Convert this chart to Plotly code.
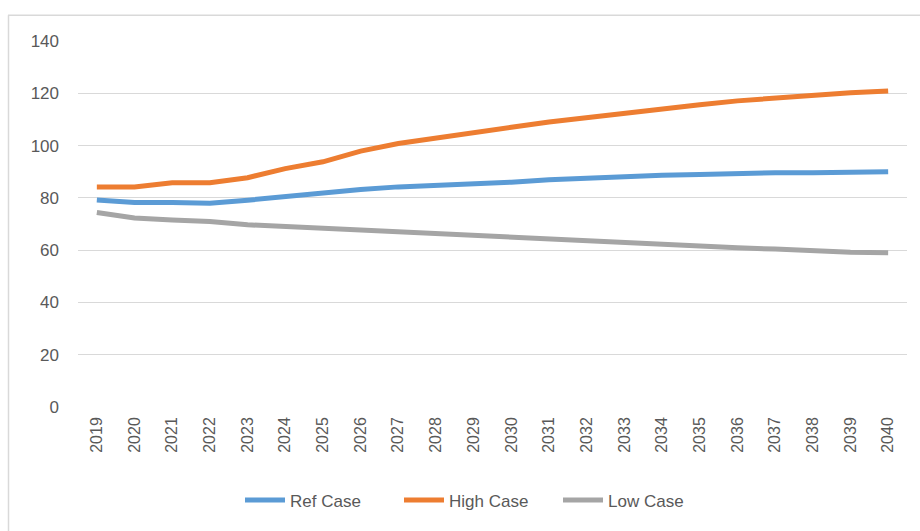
import plotly.graph_objects as go

years = [str(y) for y in range(2019, 2041)]
ref_case = [79.2, 78.2, 78.2, 77.9, 79.1, 80.5, 81.8, 83.2, 84.2, 84.7, 85.6, 86.0,
            86.9, 87.6, 88.2, 88.6, 88.9, 89.3, 89.6, 89.6, 90.0, 90.0]
high_case = [84.2, 84.2, 85.8, 85.8, 87.7, 91.2, 93.8, 97.9, 100.8, 103.0, 105.0, 107.0,
             109.0, 110.7, 112.5, 114.0, 115.6, 117.1, 118.2, 119.4, 120.2, 120.9]
low_case = [74.4, 72.3, 71.5, 71.0, 69.7, 69.0, 68.6, 67.7, 67.2, 66.3, 65.9, 65.2,
            64.4, 63.6, 63.0, 62.2, 61.7, 60.9, 60.4, 59.7, 59.2, 59.0]
y_ticks = [0, 20, 40, 60, 80, 100, 120, 140]

names = ["Ref Case", "High Case", "Low Case"]
colors = ["#5B9BD5", "#ED7D31", "#A5A5A5"]
series = [ref_case, high_case, low_case]

fig = go.Figure()
for name, vals, col in zip(names, series, colors):
    fig.add_trace(go.Scatter(x=years, y=vals, mode="lines", name=name,
                             line=dict(color=col, width=5)))

W, H = 920, 531
L, R, T, B = 78, 13, 41, 122
pw, ph = W - L - R, H - T - B

fig.update_layout(
    width=W, height=H,
    margin=dict(l=L, r=R, t=T, b=B),
    paper_bgcolor="white", plot_bgcolor="white",
    font=dict(family="Liberation Sans, Arial, sans-serif", size=14, color="#595959"),
    showlegend=True,
    legend=dict(orientation="h", x=(245 - L - 5) / pw, xanchor="left",
                y=-(503 - (T + ph)) / ph, yanchor="middle",
                font=dict(size=17, color="#595959"), itemwidth=40,
                entrywidth=104, entrywidthmode="pixels",
                bgcolor="rgba(0,0,0,0)", tracegroupgap=0),
    xaxis=dict(type="category", range=[-0.5, len(years) - 0.5], tickangle=-90,
               showgrid=False, showline=False, ticks="", ticklabelstandoff=6,
               tickfont=dict(size=16, color="#595959"), zeroline=False),
    yaxis=dict(range=[0, 140], tickvals=y_ticks, showgrid=True, gridcolor="#D9D9D9",
               gridwidth=1, zeroline=False, showline=False, ticks="",
               tickfont=dict(size=17, color="#595959"), ticklabelstandoff=18),
    shapes=[
        dict(type="line", xref="paper", yref="paper",
             x0=(8 - L) / pw, x1=(W + 5 - L) / pw,
             y0=1 + (T - 15) / ph, y1=1 + (T - 15) / ph,
             line=dict(color="#D9D9D9", width=1.5)),
        dict(type="line", xref="paper", yref="paper",
             x0=(8.5 - L) / pw, x1=(8.5 - L) / pw,
             y0=1 + (T - 15) / ph, y1=-(H + 5 - T - ph) / ph,
             line=dict(color="#D9D9D9", width=1.5)),
    ],
)

fig.write_html("out.html")
